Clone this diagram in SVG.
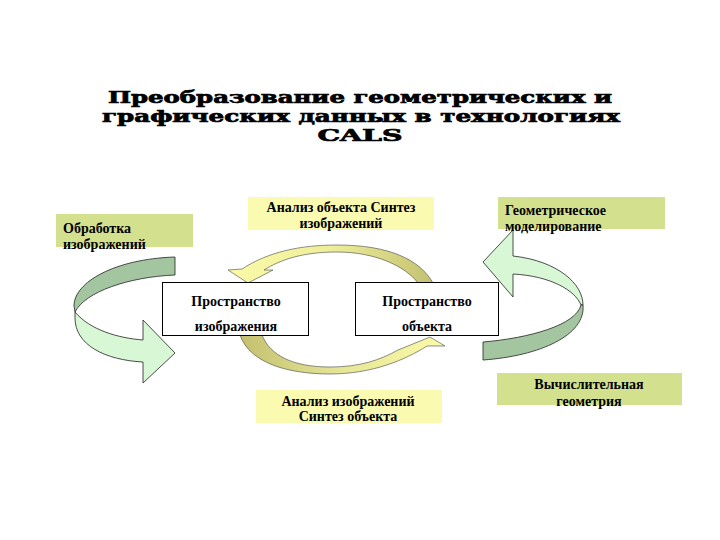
<svg xmlns="http://www.w3.org/2000/svg" width="720" height="540" viewBox="0 0 720 540">
<defs>
<style>
.title{font-family:"DejaVu Serif","Liberation Serif",serif;font-weight:bold;font-size:16px;fill:#000;stroke:#000;stroke-width:0.7}
.lbl{font-family:"Liberation Serif",serif;font-weight:bold;font-size:14px;fill:#000}
.green{fill:#d3e18f}
.yellow{fill:#fafab0}
.space{fill:#fff;stroke:#000;stroke-width:1}
.dark{fill:#a3c6a0;stroke:#222;stroke-width:0.8}
.light{fill:#d8f7d4;stroke:#222;stroke-width:0.8}
</style>
<linearGradient id="gTop" x1="0" y1="0" x2="1" y2="0">
<stop offset="0" stop-color="#fafaa8"/>
<stop offset="0.5" stop-color="#eeee9a"/>
<stop offset="1" stop-color="#c4c272"/>
</linearGradient>
<linearGradient id="gBot" x1="0" y1="0" x2="1" y2="0">
<stop offset="0" stop-color="#c4c070"/>
<stop offset="0.5" stop-color="#e6e698"/>
<stop offset="1" stop-color="#fafaa8"/>
</linearGradient>
</defs>
<rect width="720" height="540" fill="#fff"/>
<g id="title">
<text class="title" x="360" y="103" text-anchor="middle" textLength="504" lengthAdjust="spacingAndGlyphs">Преобразование геометрических и</text>
<text class="title" x="361" y="122" text-anchor="middle" textLength="518" lengthAdjust="spacingAndGlyphs">графических данных в технологиях</text>
<text class="title" x="360" y="141" text-anchor="middle" textLength="85" lengthAdjust="spacingAndGlyphs">CALS</text>
</g>
<g id="connectors">
<path class="dark" d="M175,257 C115,259 74,282 74,306 L75,312 C85,292 128,277 175,275 Z"/>
<path class="light" d="M75,312 C90,330 118,338 143,340 L143,320 L175,353 L143,383 L143,362 C105,360 75,345 75,318 Z"/>
<path class="light" d="M513,256 C558,261 583,284 583,305 L581,305 C575,290 550,276 513,274 L513,297 L483,262 L513,230 Z"/>
<path class="dark" d="M583,305 C586,335 540,356 483,360 L483,342 C530,338 576,325 581,305 Z"/>
<path fill="url(#gTop)" stroke="#444" stroke-width="0.6" d="M242,269 C268,252 300,245 337,245 C390,245 420,260 433,283 L418,283 C405,266 375,252 337,252 C302,252 280,260 264,270 L273,270 L248,283 L228,270 Z"/>
<path fill="url(#gBot)" stroke="#444" stroke-width="0.6" d="M240,335 C250,364 290,374 330,374 C372,374 405,360 427,346 L445,346 L430,337 L398,350 C380,360 360,367 330,367 C292,367 270,355 262,335 Z"/>
</g>
<g id="n-obrabotka">
<rect class="green" x="56" y="214" width="137" height="33"/>
<text class="lbl" x="63" y="233">Обработка</text>
<text class="lbl" x="63" y="249">изображений</text>
</g>
<g id="n-analiz-obj">
<rect class="yellow" x="248" y="197" width="186" height="33"/>
<text class="lbl" x="341" y="212" text-anchor="middle">Анализ объекта Синтез</text>
<text class="lbl" x="341" y="228" text-anchor="middle">изображений</text>
</g>
<g id="n-geom-model">
<rect class="green" x="498" y="197" width="167" height="32"/>
<text class="lbl" x="505" y="215">Геометрическое</text>
<text class="lbl" x="505" y="231">моделирование</text>
</g>
<g id="n-space-img">
<rect class="space" x="162.5" y="282.5" width="146" height="53"/>
<text class="lbl" x="236" y="306" text-anchor="middle">Пространство</text>
<text class="lbl" x="236" y="331" text-anchor="middle">изображения</text>
</g>
<g id="n-space-obj">
<rect class="space" x="355.5" y="282.5" width="143" height="53"/>
<text class="lbl" x="427" y="306" text-anchor="middle">Пространство</text>
<text class="lbl" x="427" y="331" text-anchor="middle">объекта</text>
</g>
<g id="n-analiz-img">
<rect class="yellow" x="256" y="390" width="186" height="33"/>
<text class="lbl" x="348" y="406" text-anchor="middle">Анализ изображений</text>
<text class="lbl" x="348" y="421" text-anchor="middle">Синтез объекта</text>
</g>
<g id="n-vych-geom">
<rect class="green" x="497" y="373" width="185" height="32"/>
<text class="lbl" x="589" y="389" text-anchor="middle">Вычислительная</text>
<text class="lbl" x="589" y="406" text-anchor="middle">геометрия</text>
</g>
</svg>
